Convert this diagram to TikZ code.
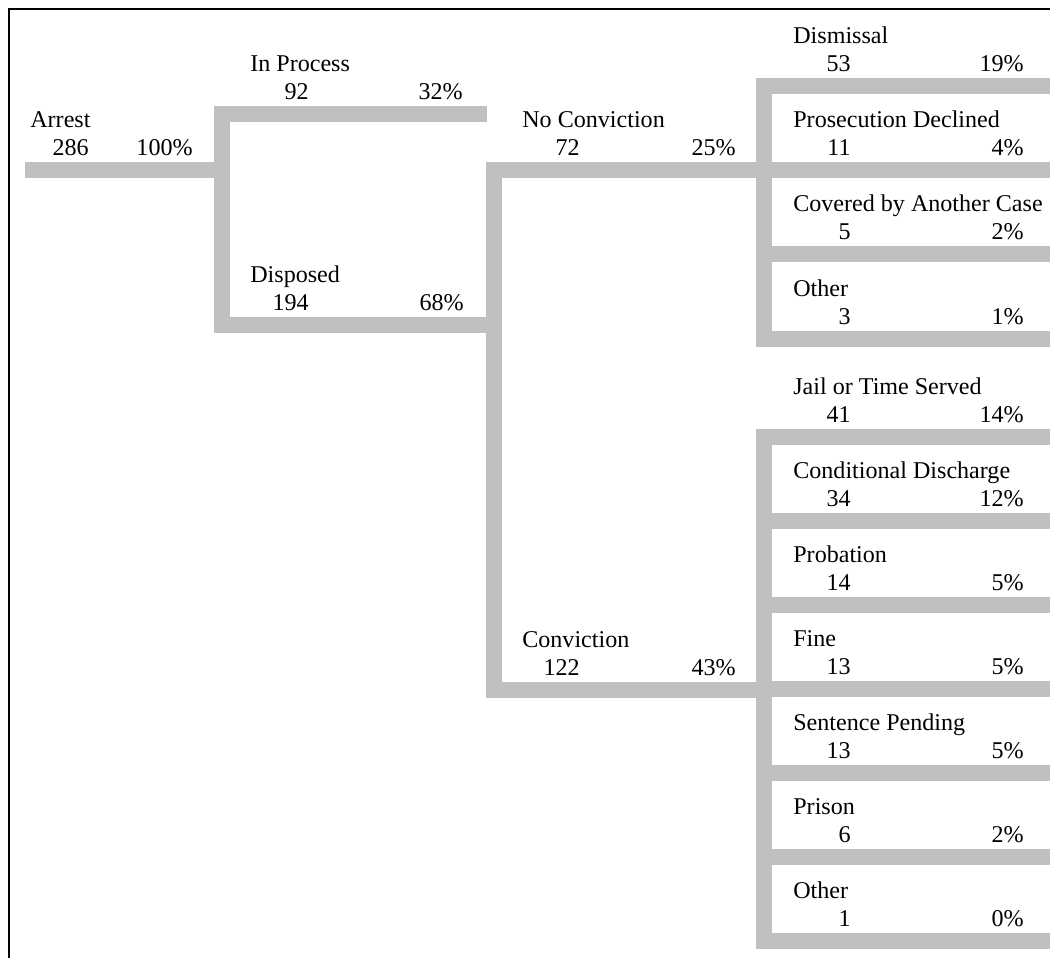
\documentclass[tikz,border=0pt]{standalone}
\usepackage{fontspec}
\setmainfont{Liberation Serif}
\definecolor{barcol}{RGB}{191,191,191}

\tikzset{
  bar/.style={draw=barcol,line width=0.32cm,line join=miter},
  lbl/.style={anchor=base west},
  num/.style={anchor=base east}
}

\begin{document}
\begin{tikzpicture}[x=0.02cm,y=-0.02cm]

      \useasboundingbox (0,0) rectangle (1050,958);
      \draw[line width=0.04cm] (1050,9) -- (9,9) -- (9,958);

      % bars of the tree
      \draw[bar] (25,170) -- (222,170);
      \draw[bar] (487,114) -- (222,114) -- (222,325) -- (494,325);
      \draw[bar] (764,170) -- (494,170) -- (494,690) -- (764,690);
      \draw[bar] (1050,86) -- (764,86) -- (764,339) -- (1050,339);
      \draw[bar] (764,170) -- (1050,170);
      \draw[bar] (764,254) -- (1050,254);
      \draw[bar] (1050,437) -- (764,437) -- (764,941) -- (1050,941);
      \draw[bar] (764,521) -- (1050,521);
      \draw[bar] (764,605) -- (1050,605);
      \draw[bar] (764,689) -- (1050,689);
      \draw[bar] (764,773) -- (1050,773);
      \draw[bar] (764,857) -- (1050,857);

      \begin{scope}[every node/.style={inner sep=0pt,font=\fontsize{13.7}{16}\selectfont}]
        \node[lbl] (arrest)   at (30,127)  {Arrest};
        \node[num] (arrest-n) at (89,155)  {286};
        \node[num] (arrest-p) at (193,155) {100\%};

        \node[lbl] (inproc)   at (250,71)  {In Process};
        \node[num] (inproc-n) at (309,99)  {92};
        \node[num] (inproc-p) at (463,99)  {32\%};

        \node[lbl] (disp)   at (250,282) {Disposed};
        \node[num] (disp-n) at (309,310) {194};
        \node[num] (disp-p) at (464,310) {68\%};

        \node[lbl] (noconv)   at (522,127) {No Conviction};
        \node[num] (noconv-n) at (580,155) {72};
        \node[num] (noconv-p) at (736,155) {25\%};

        \node[lbl] (conv)   at (522,647) {Conviction};
        \node[num] (conv-n) at (580,675) {122};
        \node[num] (conv-p) at (736,675) {43\%};

        \node[lbl] (dism)   at (793,43)   {Dismissal};
        \node[num] (dism-n) at (851,71)   {53};
        \node[num] (dism-p) at (1024,71)  {19\%};

        \node[lbl] (pros)   at (793,127)  {Prosecution Declined};
        \node[num] (pros-n) at (851,155)  {11};
        \node[num] (pros-p) at (1024,155) {4\%};

        \node[lbl] (cov)   at (793,211)  {Covered by Another Case};
        \node[num] (cov-n) at (851,239)  {5};
        \node[num] (cov-p) at (1024,239) {2\%};

        \node[lbl] (oth1)   at (793,296)  {Other};
        \node[num] (oth1-n) at (851,324)  {3};
        \node[num] (oth1-p) at (1024,324) {1\%};

        \node[lbl] (jail)   at (793,394)  {Jail or Time Served};
        \node[num] (jail-n) at (851,422)  {41};
        \node[num] (jail-p) at (1024,422) {14\%};

        \node[lbl] (cond)   at (793,478)  {Conditional Discharge};
        \node[num] (cond-n) at (851,506)  {34};
        \node[num] (cond-p) at (1024,506) {12\%};

        \node[lbl] (prob)   at (793,562)  {Probation};
        \node[num] (prob-n) at (851,590)  {14};
        \node[num] (prob-p) at (1024,590) {5\%};

        \node[lbl] (fine)   at (793,646)  {Fine};
        \node[num] (fine-n) at (851,674)  {13};
        \node[num] (fine-p) at (1024,674) {5\%};

        \node[lbl] (pend)   at (793,730)  {Sentence Pending};
        \node[num] (pend-n) at (851,758)  {13};
        \node[num] (pend-p) at (1024,758) {5\%};

        \node[lbl] (pris)   at (793,814)  {Prison};
        \node[num] (pris-n) at (851,842)  {6};
        \node[num] (pris-p) at (1024,842) {2\%};

        \node[lbl] (oth2)   at (793,898)  {Other};
        \node[num] (oth2-n) at (851,926)  {1};
        \node[num] (oth2-p) at (1024,926) {0\%};
      \end{scope}

    \end{tikzpicture}
\end{document}
